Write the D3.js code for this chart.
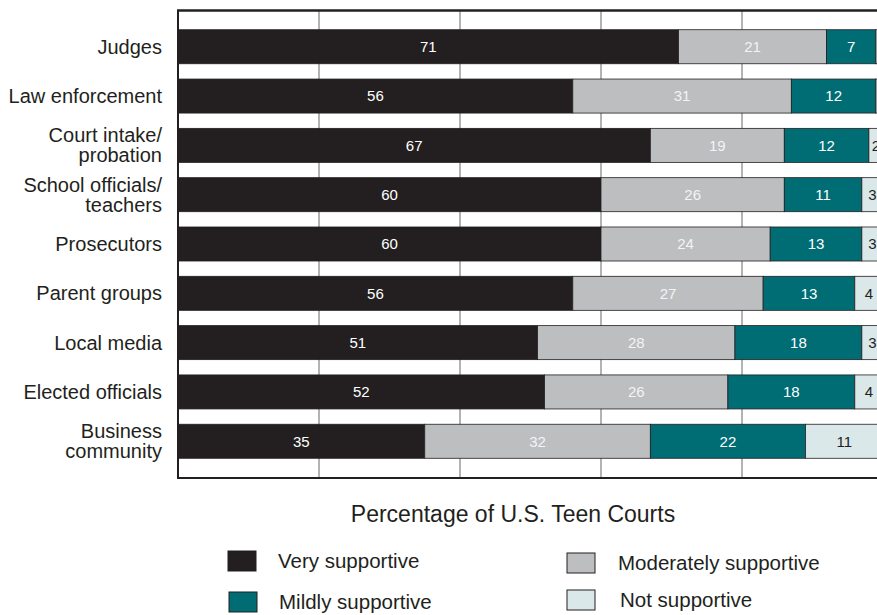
<!DOCTYPE html>
<html lang="en">
<head>
<meta charset="utf-8">
<style>
  body { margin: 0; background: white; }
  svg { display: block; background: white; font-family: "Liberation Sans", Arial, sans-serif; }
  .grid line { stroke: #b3b3b3; stroke-width: 2px; }
  .seg { stroke: #231f20; stroke-width: 0.8px; }
  .cat { font-size: 20px; fill: #231f20; }
  .val { font-size: 15px; }
  .leg { font-size: 20.5px; fill: #231f20; }
</style>
<script src="https://d3js.org/d3.v7.min.js"></script>
</head>
<body>
<script>
// rows, top to bottom
var categories = ["Judges", "Law enforcement", "Court intake/\nprobation", "School officials/\nteachers",
  "Prosecutors", "Parent groups", "Local media", "Elected officials", "Business\ncommunity"];

var series = ["Very supportive", "Moderately supportive", "Mildly supportive", "Not supportive"];
var veryVals     = [71, 56, 67, 60, 60, 56, 51, 52, 35];
var moderateVals = [21, 31, 19, 26, 24, 27, 28, 26, 32];
var mildVals     = [7, 12, 12, 11, 13, 13, 18, 18, 22];
var notVals      = [1, 1, 2, 3, 3, 4, 3, 4, 11];
var gridTicks = [20, 40, 60, 80];

var colors = ["#231f20", "#bcbec0", "#006d75", "#dbe8ea"];
var textColors = ["#ffffff", "#f4f4f4", "#ffffff", "#231f20"];

var width = 877, height = 615;

var svg = d3.select("body").append("svg")
  .attr("width", width)
  .attr("height", height);

var x = d3.scaleLinear().domain([0, 100]).range([178, 883]);
var y = d3.scaleBand().domain(categories).range([10, 478])
  .paddingInner(0.31).paddingOuter(0.4);

// grid lines behind the bars
svg.append("g").attr("class", "grid")
  .selectAll("line")
  .data(gridTicks)
  .enter().append("line")
  .attr("x1", function(d) { return x(d); })
  .attr("x2", function(d) { return x(d); })
  .attr("y1", 10)
  .attr("y2", 478);

var table = categories.map(function(c, i) {
  return { cat: c, v0: veryVals[i], v1: moderateVals[i], v2: mildVals[i], v3: notVals[i] };
});
var stack = d3.stack().keys(["v0", "v1", "v2", "v3"]);
var layers = stack(table);

var layer = svg.selectAll("g.layer")
  .data(layers)
  .enter().append("g")
  .attr("class", "layer");

layer.selectAll("rect")
  .data(function(d) { return d; })
  .enter().append("rect")
  .attr("class", "seg")
  .attr("x", function(d) { return x(d[0]); })
  .attr("width", function(d) { return x(d[1]) - x(d[0]); })
  .attr("y", function(d) { return y(d.data.cat); })
  .attr("height", y.bandwidth())
  .attr("fill", function() { return colors[d3.select(this.parentNode).datum().index]; });

layer.each(function(L) {
  d3.select(this).selectAll("text")
    .data(L.filter(function(d) { return d[1] - d[0] >= 2; }))
    .enter().append("text")
    .attr("class", "val")
    .attr("x", function(d) { return x((d[0] + d[1]) / 2); })
    .attr("y", function(d) { return y(d.data.cat) + y.bandwidth() / 2; })
    .attr("dy", "0.36em")
    .attr("text-anchor", "middle")
    .attr("fill", textColors[L.index])
    .text(function(d) { return d[1] - d[0]; });
});

// frame
svg.append("line").attr("x1", 177).attr("x2", 883).attr("y1", 10.5).attr("y2", 10.5)
  .attr("stroke", "#231f20").attr("stroke-width", 2.5);
svg.append("line").attr("x1", 178).attr("x2", 178).attr("y1", 10).attr("y2", 479)
  .attr("stroke", "#231f20").attr("stroke-width", 2);
svg.append("line").attr("x1", 177).attr("x2", 883).attr("y1", 478).attr("y2", 478)
  .attr("stroke", "#231f20").attr("stroke-width", 2);

// category labels
svg.append("g").selectAll("text")
  .data(categories)
  .enter().append("text")
  .attr("class", "cat")
  .attr("text-anchor", "end")
  .each(function(c) {
    var lines = c.split("\n");
    var cy = y(c) + y.bandwidth() / 2;
    var t = d3.select(this);
    lines.forEach(function(s, k) {
      t.append("tspan")
        .attr("x", 162)
        .attr("y", cy + (k - (lines.length - 1) / 2) * 20)
        .attr("dy", "0.35em")
        .text(s);
    });
  });

svg.append("text")
  .attr("x", 513).attr("y", 522)
  .attr("text-anchor", "middle")
  .attr("font-size", 23)
  .attr("fill", "#231f20")
  .text("Percentage of U.S. Teen Courts");

// legend, two columns
var legPos = [[228, 551], [567, 553], [229, 592], [567, 590]];
var leg = svg.append("g").selectAll("g")
  .data([0, 1, 2, 3])
  .enter().append("g")
  .attr("transform", function(d) { return "translate(" + legPos[d][0] + "," + legPos[d][1] + ")"; });

leg.append("rect")
  .attr("width", 28).attr("height", 20)
  .attr("fill", function(d) { return colors[d]; })
  .attr("stroke", "#231f20").attr("stroke-width", 1);

leg.append("text")
  .attr("class", "leg")
  .attr("x", function(d) { return d === 3 ? 53 : d === 1 ? 51 : 50; })
  .attr("y", 10)
  .attr("dy", "0.36em")
  .text(function(d) { return series[d]; });
</script>
</body>
</html>
